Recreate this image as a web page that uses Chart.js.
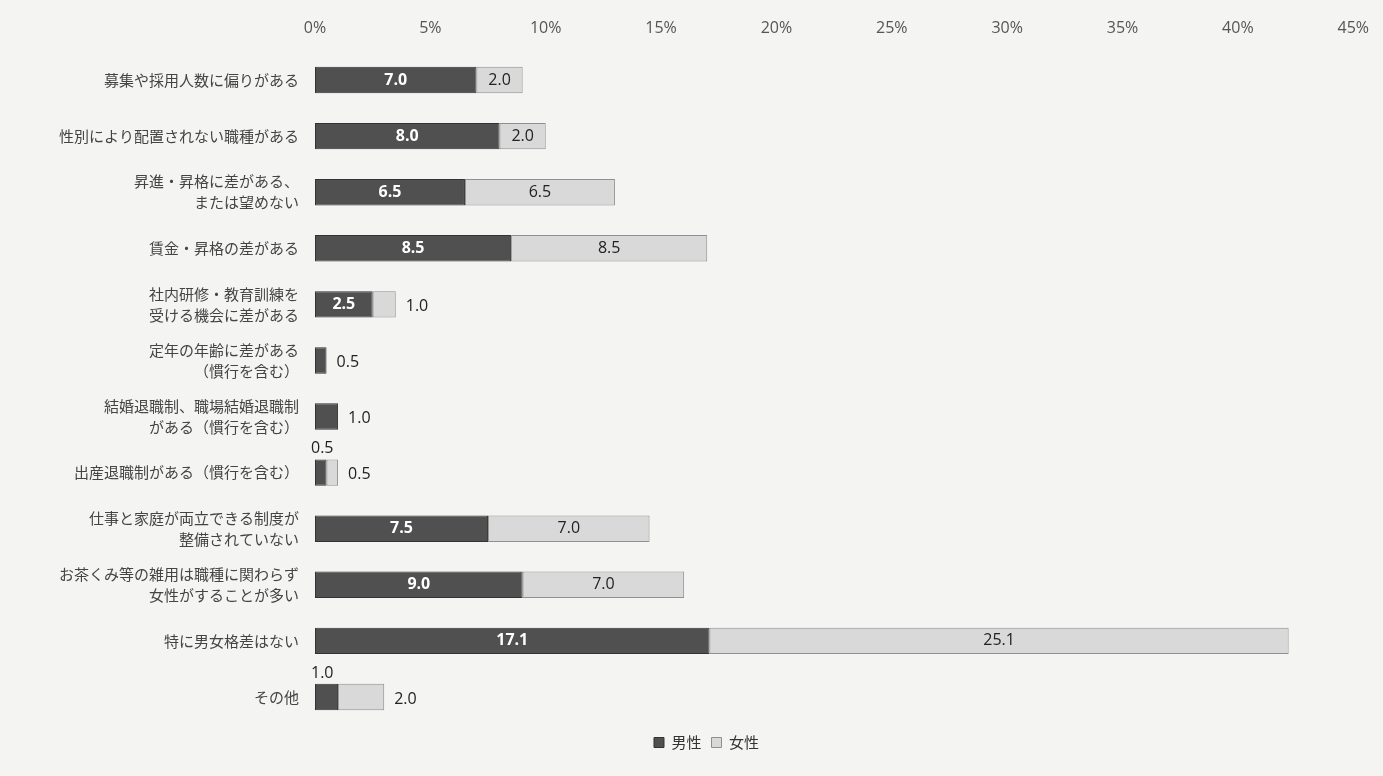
<!DOCTYPE html>
<html lang="ja">
<head>
<meta charset="utf-8">
<script src="https://cdn.jsdelivr.net/npm/chart.js@4.4.1/dist/chart.umd.min.js"></script>
<style>
  html, body { margin: 0; padding: 0; background: #f4f4f2; }
  #wrap { width: 1383px; height: 776px; }
</style>
</head>
<body>
<div id="wrap"><canvas id="chart"></canvas></div>
<script>
// Categories (top to bottom)
const categories = [
    '募集や採用人数に偏りがある',
    '性別により配置されない職種がある',
    ['昇進・昇格に差がある、', 'または望めない'],
    '賃金・昇格の差がある',
    ['社内研修・教育訓練を', '受ける機会に差がある'],
    ['定年の年齢に差がある', '（慣行を含む）'],
    ['結婚退職制、職場結婚退職制', 'がある（慣行を含む）'],
    '出産退職制がある（慣行を含む）',
    ['仕事と家庭が両立できる制度が', '整備されていない'],
    ['お茶くみ等の雑用は職種に関わらず', '女性がすることが多い'],
    '特に男女格差はない',
    'その他'
];
const maleValues   = [7.0, 8.0, 6.5, 8.5, 2.5, 0.5, 1.0, 0.5, 7.5, 9.0, 17.1, 1.0];
const femaleValues = [2.0, 2.0, 6.5, 8.5, 1.0, 0,   0,   0.5, 7.0, 7.0, 25.1, 2.0];
const seriesNames = ['男性', '女性'];
const xTicks = [0, 5, 10, 15, 20, 25, 30, 35, 40, 45];

const labelFont = '16px "Open Sans", "Liberation Sans", sans-serif';

// Draws value labels: inside wide segments, outside small ones
const valueLabels = {
    id: 'valueLabels',
    afterDatasetsDraw(chart) {
        const ctx = chart.ctx;
        const male = chart.getDatasetMeta(0).data;
        const female = chart.getDatasetMeta(1).data;
        ctx.save();
        ctx.textBaseline = 'middle';
        categories.forEach((c, i) => {
            const m = male[i], f = female[i];
            const mw = m.x - m.base;
            const fw = f.x - f.base;
            const mText = maleValues[i].toFixed(1);
            const fText = femaleValues[i].toFixed(1);
            const maleInside = mw > 40;
            // male
            ctx.fillStyle = '#222';
            ctx.font = labelFont;
            ctx.textAlign = 'left';
            if (maleInside) {
                ctx.font = 'bold 16px "Open Sans", "Liberation Sans", sans-serif';
                ctx.fillStyle = '#ffffff';
                ctx.textAlign = 'center';
                ctx.fillText(mText, (m.x + m.base) / 2, m.y);
            } else if (femaleValues[i] > 0) {
                ctx.fillText(mText, m.base - 4, m.y - 24);
            } else {
                ctx.fillText(mText, m.x + 10, m.y + 2);
            }
            // female
            if (femaleValues[i] > 0) {
                ctx.font = labelFont;
                ctx.fillStyle = '#222';
                if (fw > 40 && maleInside) {
                    ctx.textAlign = 'center';
                    ctx.fillText(fText, (f.x + f.base) / 2, f.y);
                } else {
                    ctx.textAlign = 'left';
                    ctx.fillText(fText, f.x + 10, f.y + 2);
                }
            }
        });
        ctx.restore();
    }
};

const ctx = document.getElementById('chart').getContext('2d');
new Chart(ctx, {
    type: 'bar',
    data: {
        labels: categories,
        datasets: [{
            label: seriesNames[0],
            data: maleValues,
            backgroundColor: '#505050',
            borderColor: '#333333',
            borderWidth: 1,
            borderSkipped: false,
            barPercentage: 0.47,
            categoryPercentage: 1
        }, {
            label: seriesNames[1],
            data: femaleValues,
            backgroundColor: '#d9d9d9',
            borderColor: '#8f8f8f',
            borderWidth: 1,
            borderSkipped: false,
            barPercentage: 0.47,
            categoryPercentage: 1
        }]
    },
    options: {
        indexAxis: 'y',
        responsive: true,
        maintainAspectRatio: false,
        animation: false,
        layout: {
            padding: { left: 56, right: 26, top: 0, bottom: 16 }
        },
        plugins: {
            legend: {
                position: 'bottom',
                labels: {
                    boxWidth: 10,
                    boxHeight: 10,
                    padding: 10,
                    color: '#333',
                    font: { size: 15, family: '"Noto Sans CJK JP", sans-serif' }
                }
            },
            tooltip: { enabled: false }
        },
        scales: {
            x: {
                position: 'top',
                stacked: true,
                min: 0,
                max: 45,
                afterBuildTicks(scale) {
                    scale.ticks = xTicks.map(v => ({ value: v }));
                },
                afterFit(scale) {
                    scale.height = 52;
                },
                grid: { display: false, drawTicks: false },
                border: { display: false },
                ticks: {
                    padding: 14,
                    color: '#555',
                    font: { size: 16, family: '"Open Sans", "Liberation Sans", sans-serif' },
                    callback: v => v + '%'
                }
            },
            y: {
                stacked: true,
                afterFit(scale) {
                    scale.width = 259;
                },
                grid: { display: false, drawTicks: false },
                border: { display: false },
                ticks: {
                    padding: 16,
                    color: '#444',
                    font: { size: 15, family: '"Noto Sans CJK JP", sans-serif', lineHeight: 1.4 }
                }
            }
        }
    },
    plugins: [valueLabels]
});
</script>
</body>
</html>
